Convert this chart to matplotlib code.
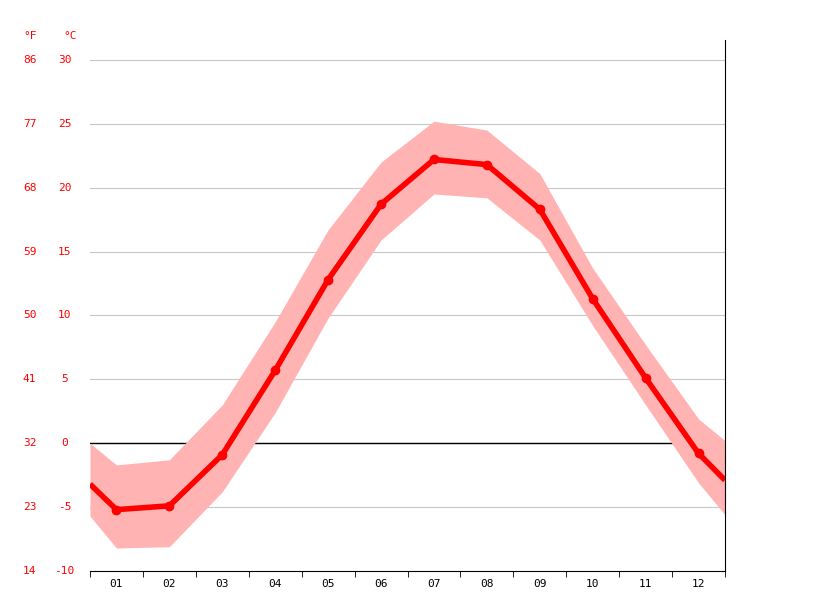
import matplotlib
matplotlib.use('Agg')
import matplotlib.pyplot as plt
import numpy as np

months = ['01', '02', '03', '04', '05', '06', '07', '08', '09', '10', '11', '12']
x_pos = [0.5] + list(range(1, 13)) + [12.5]
avg_temp = [-3.2, -5.2, -4.9, -0.9, 5.7, 12.8, 18.7, 22.2, 21.8, 18.3, 11.3, 5.1, -0.8, -2.9]
max_temp = [0.0, -1.7, -1.3, 3.0, 9.5, 16.7, 22.0, 25.2, 24.5, 21.1, 13.7, 7.7, 1.9, 0.2]
min_temp = [-5.7, -8.2, -8.1, -3.8, 2.4, 9.8, 15.9, 19.5, 19.2, 15.9, 9.2, 3.0, -3.1, -5.6]
c_ticks = [30, 25, 20, 15, 10, 5, 0, -5, -10]
f_ticks = [86, 77, 68, 59, 50, 41, 32, 23, 14]

mono = 'DejaVu Sans Mono'
fig = plt.figure(figsize=(8.15, 6.11), dpi=100)
ax = fig.add_axes([90/815, 40/611, 635/815, 531/611])
ax.set_xlim(0.5, 12.5)
ax.set_ylim(-10, 31.55)

for t in c_ticks[:-1]:
    ax.axhline(t, color='#c8c8c8', lw=0.8, zorder=0)
ax.axhline(0, color='black', lw=1, zorder=1)

ax.fill_between(x_pos, min_temp, max_temp, color='#ffb3b3', lw=0, zorder=2)
ax.plot(x_pos, avg_temp, color='#ff0000', lw=4, zorder=3, solid_capstyle='butt')
ax.plot(x_pos[1:-1], avg_temp[1:-1], 'o', color='#ff0000', ms=6, zorder=4)

for s in ['top', 'left']:
    ax.spines[s].set_visible(False)
ax.spines['right'].set_color('black')
ax.spines['bottom'].set_color('black')

ax.set_xticks(range(1, 13))
ax.set_xticklabels(months, fontfamily=mono, fontsize=8)
ax.set_xticks(np.arange(0.5, 13, 1), minor=True)
ax.tick_params(axis='x', which='major', length=0, pad=6)
ax.tick_params(axis='x', which='minor', length=4, color='black')
ax.set_yticks([])

trans = ax.get_yaxis_transform()
for c, f in zip(c_ticks, f_ticks):
    ax.text(-0.04, c, str(c), transform=trans, ha='center', va='center',
            color='red', fontsize=8, fontfamily=mono)
    ax.text(-0.095, c, str(f), transform=trans, ha='center', va='center',
            color='red', fontsize=8, fontfamily=mono)
fig.text(70/815, 1 - 36/611, '°C', color='red', fontsize=8, fontfamily=mono, ha='center', va='center')
fig.text(30/815, 1 - 36/611, '°F', color='red', fontsize=8, fontfamily=mono, ha='center', va='center')

fig.savefig('out.png', dpi=100)
